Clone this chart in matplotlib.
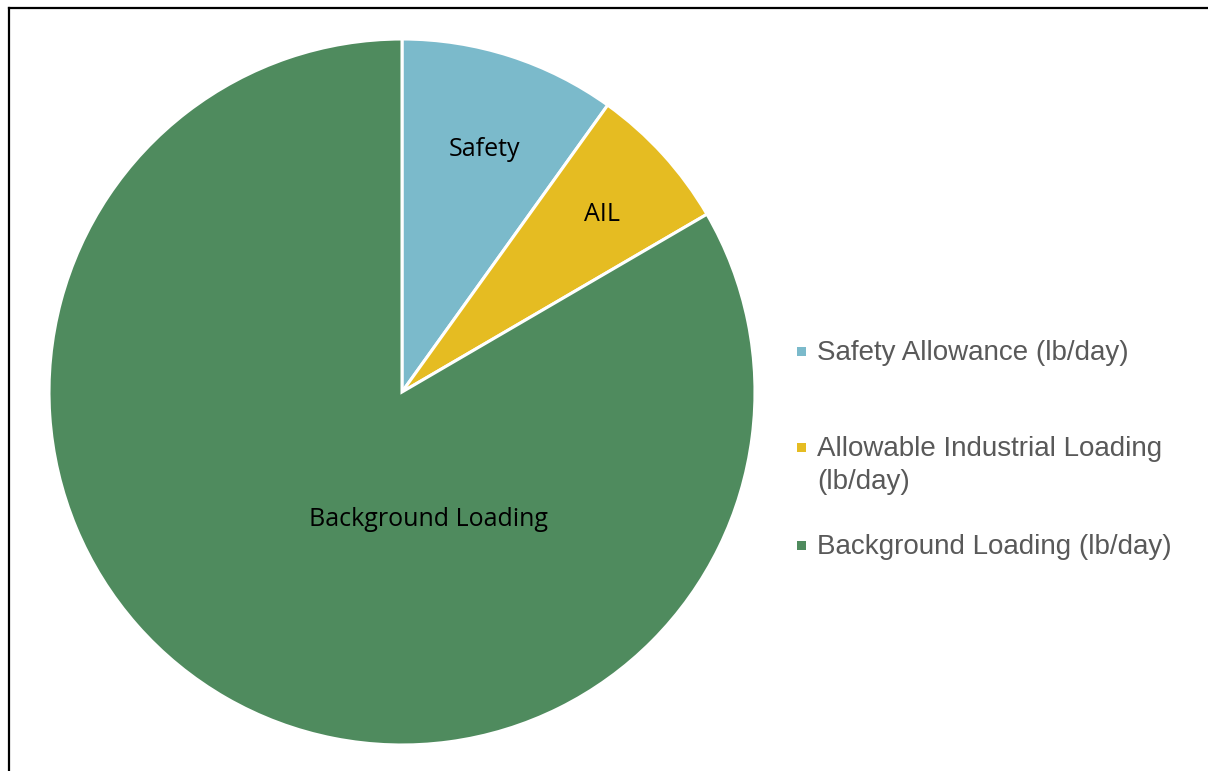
import matplotlib.pyplot as plt
from matplotlib.lines import Line2D
from matplotlib.patches import Rectangle

# Load shares (percent of total)
categories = ["Safety Allowance (lb/day)",
              "Allowable Industrial Loading\n(lb/day)",
              "Background Loading (lb/day)"]
short_labels = ["Safety", "AIL", "Background Loading"]
values = [9.9, 6.7, 83.4]
colors = ["#7BBACB", "#E5BC22", "#4F8B5E"]

W, H = 1208, 771
fig = plt.figure(figsize=(W / 100, H / 100), dpi=100)

# pie axes: centre (402, 392) px, radius 353 px
cx, cy, r = 402, 392, 353
ax = fig.add_axes([(cx - r) / W, (H - cy - r) / H, 2 * r / W, 2 * r / H])
wedges, _ = ax.pie(values, colors=colors, startangle=90, counterclock=False,
                   radius=1.0, wedgeprops=dict(edgecolor="white", linewidth=2.2))
ax.set_xlim(-1, 1)
ax.set_ylim(-1, 1)
ax.set_aspect("equal")
ax.axis("off")

# data labels inside slices
label_pos = [(0.235, 0.688), (0.567, 0.504), (0.074, -0.362)]
for txt, (x, y) in zip(short_labels, label_pos):
    ax.text(x, y, txt, ha="center", va="center", fontsize=18,
            family="Open Sans", color="black")

# legend on the right, drawn by hand so the marker sits on the first line
leg_tops = [353, 449, 547]
line_step = 33
for lab, col, y in zip(categories, colors, leg_tops):
    fig.patches.append(Rectangle((797 / W, (H - y + 2 - 4.5) / H), 9 / W, 9 / H,
                                 transform=fig.transFigure, facecolor=col,
                                 edgecolor="none"))
    nlines = lab.count("\n") + 1
    yc = y + (nlines - 1) * line_step / 2
    fig.text(817 / W, (H - yc) / H, lab, ha="left", va="center",
             fontsize=20, family="Liberation Sans", color="#595959",
             linespacing=1.38)

# frame (top and left edges visible)
fig.add_artist(Line2D([9 / W, 1], [(H - 8) / H, (H - 8) / H], color="black",
                      linewidth=1.6, transform=fig.transFigure))
fig.add_artist(Line2D([9 / W, 9 / W], [0, (H - 8) / H], color="black",
                      linewidth=1.6, transform=fig.transFigure))

fig.savefig("out.png", dpi=100, facecolor="white")
